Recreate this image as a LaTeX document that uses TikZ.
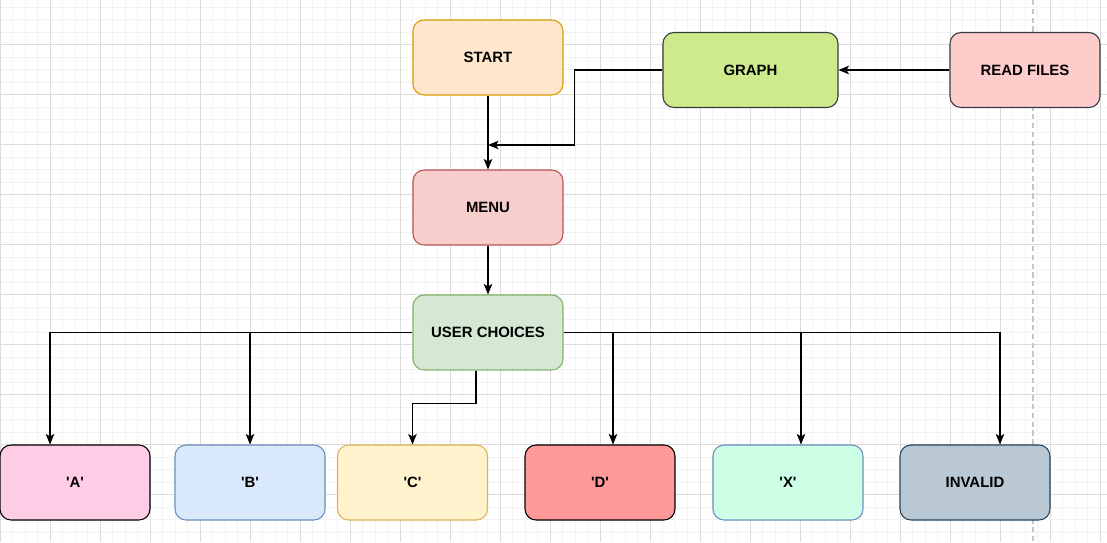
\documentclass[tikz,border=0pt]{standalone}
\usepackage{fontspec}
\setmainfont{Liberation Sans}
\usetikzlibrary{arrows.meta}

\definecolor{startfill}{HTML}{FFE6CC}
\definecolor{startline}{HTML}{D79B00}
\definecolor{graphfill}{HTML}{CDEB8B}
\definecolor{darkline}{HTML}{36393D}
\definecolor{readfill}{HTML}{FFCCCC}
\definecolor{menufill}{HTML}{F8CECC}
\definecolor{menuline}{HTML}{B85450}
\definecolor{userfill}{HTML}{D5E8D4}
\definecolor{userline}{HTML}{82B366}
\definecolor{afill}{HTML}{FFCCE6}
\definecolor{bfill}{HTML}{DAE8FC}
\definecolor{bline}{HTML}{6C8EBF}
\definecolor{cfill}{HTML}{FFF2CC}
\definecolor{cline}{HTML}{D6B656}
\definecolor{dfill}{HTML}{FF9999}
\definecolor{xfill}{HTML}{CCFFE6}
\definecolor{invfill}{HTML}{BAC8D3}
\definecolor{invline}{HTML}{23445D}
\definecolor{gridminor}{HTML}{F3F3F3}
\definecolor{gridmajor}{HTML}{DCDCDC}

\newcommand{\q}{\textquotesingle}

\begin{document}
\begin{tikzpicture}[
    x=0.02cm, y=-0.02cm,
    box/.style={draw, rectangle, rounded corners=0.22cm, minimum width=3cm,
                minimum height=1.5cm, text centered, line width=0.6pt,
                font=\fontsize{8.5}{10}\selectfont\bfseries},
    arrow/.style={-{Stealth[length=0.21cm, width=0.17cm, inset=0.05cm]}, line width=0.65pt},
    minorgrid/.style={gridminor, line width=0.5pt},
    majorgrid/.style={gridmajor, line width=0.5pt}
]
    \useasboundingbox (0,0) rectangle (1107,542);
    % Grid
    \foreach \i in {0,...,88} \draw[minorgrid] (\i*12.5,0) -- (\i*12.5,542);
    \foreach \i in {0,...,43} \draw[minorgrid] (0,\i*12.5+7) -- (1107,\i*12.5+7);
    \foreach \i in {0,...,22} \draw[majorgrid] (\i*50,0) -- (\i*50,542);
    \foreach \i in {0,...,9} \draw[majorgrid] (0,\i*50+44.5) -- (1107,\i*50+44.5);
    \draw[gray!45, line width=0.8pt, dash pattern=on 3pt off 2pt] (1033,0) -- (1033,542);

    % Start
    \node[box, fill=startfill, draw=startline] (start) at (488,57.5) {START};
    % Graph
    \node[box, fill=graphfill, draw=darkline, minimum width=3.5cm] (graph) at (750.5,70) {GRAPH};
    % Read files
    \node[box, fill=readfill, draw=darkline] (read) at (1025,70) {READ FILES};
    % Menu
    \node[box, fill=menufill, draw=menuline] (menu) at (488,207.5) {MENU};
    % User choices
    \node[box, fill=userfill, draw=userline] (choices) at (488,332.5) {USER CHOICES};
    % Options
    \node[box, fill=afill, draw=black] (a) at (75,482.5) {\q A\q};
    \node[box, fill=bfill, draw=bline] (b) at (250,482.5) {\q B\q};
    \node[box, fill=cfill, draw=cline] (c) at (412.5,482.5) {\q C\q};
    \node[box, fill=dfill, draw=black] (d) at (600,482.5) {\q D\q};
    \node[box, fill=xfill, draw=bline] (x) at (788,482.5) {\q X\q};
    \node[box, fill=invfill, draw=invline] (inv) at (975,482.5) {INVALID};

    \coordinate (join) at (488,145);

    % Arrows
    \draw[arrow] (start) -- (menu);
    \draw[arrow] (read) -- (graph);
    \draw[arrow] (graph.west) -- ++(-88,0) |- (join);
    \draw[arrow] (menu) -- (choices);
    \draw[arrow] (choices.west) -| ([xshift=-0.5cm]a.north);
    \draw[arrow] (choices.west) -| (b.north);
    \draw[arrow] ([xshift=-0.24cm]choices.south) -- ++(0,33) -| (c.north);
    \draw[arrow] (choices.east) -| ([xshift=0.26cm]d.north);
    \draw[arrow] (choices.east) -| ([xshift=0.26cm]x.north);
    \draw[arrow] (choices.east) -| ([xshift=0.5cm]inv.north);
\end{tikzpicture}
\end{document}
